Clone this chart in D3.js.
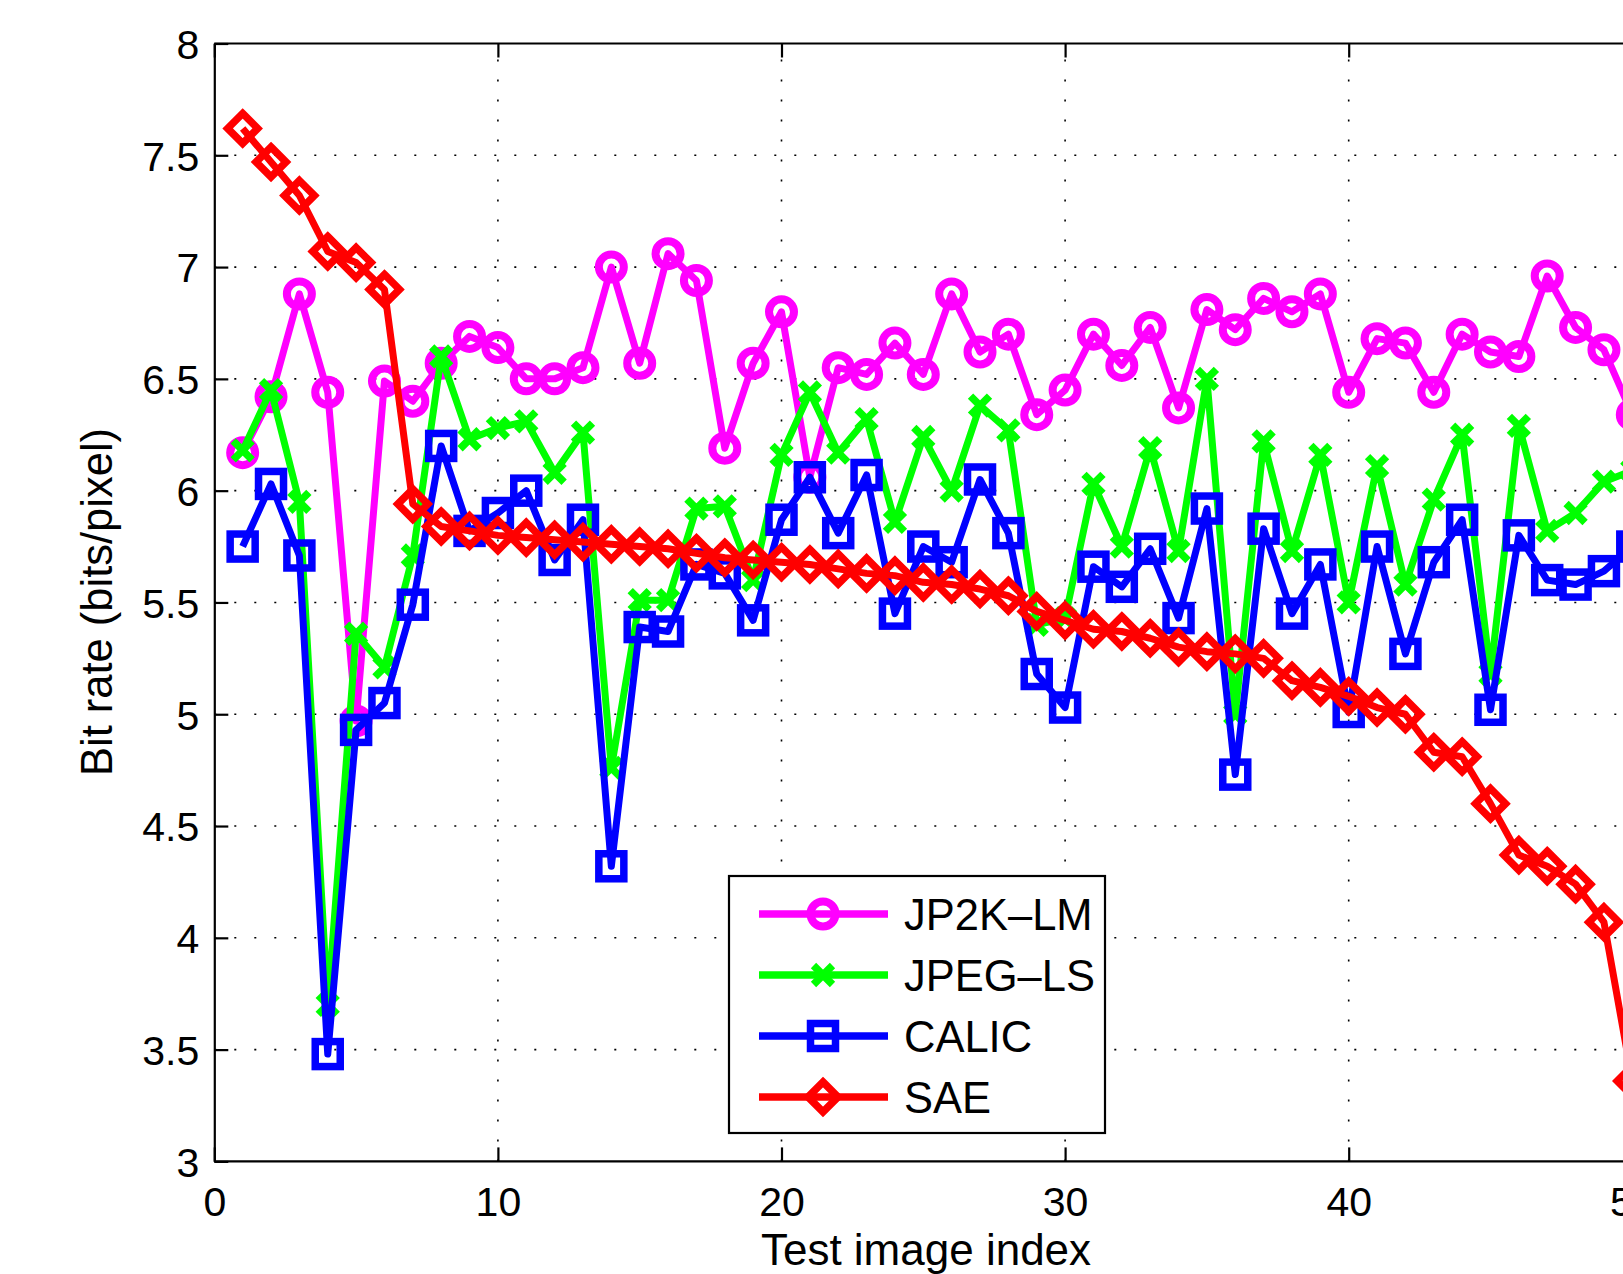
<!DOCTYPE html>
<html>
<head>
<meta charset="utf-8">
<script src="https://cdn.jsdelivr.net/npm/d3@7"></script>
<style>
  body { margin: 0; background: #fff; overflow: hidden; }
  svg { display: block; font-family: "Liberation Sans", Arial, sans-serif; }
</style>
</head>
<body>
<div id="chart"></div>
<script>
// test image index 1..50
const imageIndex = d3.range(1, 51);

const jp2kLM = [6.17, 6.42, 6.88, 6.44, 4.97, 6.49, 6.40, 6.57, 6.69, 6.64,
                6.50, 6.50, 6.55, 7.00, 6.57, 7.06, 6.94, 6.19, 6.57, 6.80,
                6.06, 6.55, 6.52, 6.66, 6.52, 6.88, 6.62, 6.70, 6.34, 6.45,
                6.70, 6.56, 6.73, 6.37, 6.81, 6.72, 6.86, 6.80, 6.88, 6.44,
                6.68, 6.66, 6.44, 6.70, 6.62, 6.60, 6.96, 6.73, 6.63, 6.34];

const jpegLS = [6.18, 6.45, 5.95, 3.70, 5.36, 5.21, 5.71, 6.60, 6.23, 6.28,
                6.31, 6.08, 6.26, 4.76, 5.51, 5.51, 5.92, 5.93, 5.60, 6.16,
                6.44, 6.17, 6.32, 5.86, 6.24, 6.00, 6.38, 6.27, 5.40, 5.43,
                6.03, 5.75, 6.19, 5.73, 6.50, 5.00, 6.22, 5.73, 6.16, 5.50,
                6.11, 5.58, 5.96, 6.25, 5.18, 6.29, 5.82, 5.90, 6.04, 6.09];

const calic = [5.75, 6.03, 5.71, 3.48, 4.93, 5.05, 5.49, 6.20, 5.82, 5.90,
               6.00, 5.69, 5.87, 4.32, 5.39, 5.37, 5.67, 5.63, 5.42, 5.87,
               6.06, 5.81, 6.07, 5.45, 5.75, 5.68, 6.05, 5.81, 5.18, 5.03,
               5.66, 5.57, 5.74, 5.43, 5.92, 4.73, 5.83, 5.45, 5.67, 5.01,
               5.75, 5.27, 5.68, 5.87, 5.02, 5.80, 5.60, 5.58, 5.64, 5.75];

const sae = [7.62, 7.47, 7.32, 7.07, 7.02, 6.90, 5.94, 5.84, 5.82, 5.80,
             5.79, 5.78, 5.77, 5.76, 5.75, 5.74, 5.72, 5.70, 5.69, 5.68,
             5.67, 5.65, 5.63, 5.62, 5.59, 5.58, 5.56, 5.53, 5.46, 5.42,
             5.38, 5.37, 5.34, 5.30, 5.28, 5.27, 5.25, 5.15, 5.12, 5.08,
             5.03, 5.00, 4.83, 4.81, 4.60, 4.37, 4.32, 4.24, 4.07, 3.36];

const seriesNames = ["JP2K\u2013LM", "JPEG\u2013LS", "CALIC", "SAE"];
const seriesColors = ["#ff00ff", "#00ff00", "#0000ff", "#ff0000"];
const seriesMarkers = ["circle", "x", "square", "diamond"];
const seriesValues = [jp2kLM, jpegLS, calic, sae];

const xTicks = [0, 10, 20, 30, 40, 50, 60];
const yTicks = [3, 3.5, 4, 4.5, 5, 5.5, 6, 6.5, 7, 7.5, 8];

const W = 1623, H = 1274;
const x0 = 214.3, pxPerUnit = 28.36;

const svg = d3.select("#chart").append("svg")
  .attr("width", W)
  .attr("height", H);

const x = d3.scaleLinear().domain([0, 60]).range([x0, x0 + 60 * pxPerUnit]);
const y = d3.scaleLinear().domain([3, 8]).range([1161.4, 43.5]);

// dotted grid
const grid = svg.append("g")
  .attr("stroke", "#000")
  .attr("stroke-width", 1.6)
  .attr("stroke-dasharray", "2 18");

grid.selectAll(".gy")
  .data(yTicks.filter(d => d > 3 && d < 8))
  .enter().append("line")
  .attr("x1", x(0)).attr("x2", W)
  .attr("y1", d => y(d)).attr("y2", d => y(d));

grid.selectAll(".gx")
  .data(xTicks.filter(d => d > 0))
  .enter().append("line")
  .attr("x1", d => x(d)).attr("x2", d => x(d))
  .attr("y1", y(3)).attr("y2", y(8));

// axes
const yAxis = d3.axisLeft(y).tickValues(yTicks).tickSizeInner(-14).tickSizeOuter(0).tickPadding(15)
  .tickFormat(d3.format("~g"));
const xAxis = d3.axisBottom(x).tickValues(xTicks).tickSizeInner(-14).tickSizeOuter(0).tickPadding(25);
const xTop = d3.axisTop(x).tickValues(xTicks).tickSizeInner(-14).tickSizeOuter(0).tickFormat("");

const gy = svg.append("g").attr("transform", `translate(${x(0)},0)`).call(yAxis);
const gx = svg.append("g").attr("transform", `translate(0,${y(3)})`).call(xAxis);
const gt = svg.append("g").attr("transform", `translate(0,${y(8)})`).call(xTop);

[gy, gx, gt].forEach(g => {
  g.select(".domain").attr("stroke", "#000").attr("stroke-width", 2.2);
  g.selectAll(".tick line").attr("stroke", "#000").attr("stroke-width", 2.2);
  g.selectAll(".tick text")
    .attr("fill", "#000")
    .style("font-size", "41px")
    .style("font-family", "Liberation Sans, Arial, sans-serif");
});
gx.select(".domain").attr("d", `M${x(0)},0H${W}`);
gt.select(".domain").attr("d", `M${x(0)},0H${W}`);
gy.selectAll(".tick text").attr("dy", "0.36em");

// axis labels
svg.append("text")
  .attr("x", 926)
  .attr("y", 1265)
  .attr("text-anchor", "middle")
  .style("font-size", "44px")
  .text("Test image index");

svg.append("text")
  .attr("transform", "translate(112,602) rotate(-90)")
  .attr("text-anchor", "middle")
  .style("font-size", "43.5px")
  .text("Bit rate (bits/pixel)");

// marker drawer
function drawMarker(sel, type, color) {
  if (type === "circle") {
    sel.append("circle").attr("r", 12.5)
      .attr("fill", "none").attr("stroke", color).attr("stroke-width", 8);
  } else if (type === "square") {
    sel.append("rect").attr("x", -12.5).attr("y", -12.5).attr("width", 25).attr("height", 25)
      .attr("fill", "none").attr("stroke", color).attr("stroke-width", 7.5);
  } else if (type === "diamond") {
    sel.append("path").attr("d", "M0,-15L15,0L0,15L-15,0Z")
      .attr("fill", "none").attr("stroke", color).attr("stroke-width", 7.5)
      .attr("stroke-linejoin", "miter");
  } else {
    sel.append("path").attr("d", "M-9.5,-9.5L9.5,9.5M-9.5,9.5L9.5,-9.5")
      .attr("fill", "none").attr("stroke", color).attr("stroke-width", 7.5);
  }
}

const line = d3.line().x(d => x(d[0])).y(d => y(d[1]));

seriesValues.forEach((vals, k) => {
  const pts = imageIndex.map((d, i) => [d, vals[i]]);
  const g = svg.append("g");
  g.append("path")
    .attr("d", line(pts))
    .attr("fill", "none")
    .attr("stroke", seriesColors[k])
    .attr("stroke-width", 7)
    .attr("stroke-linejoin", "round");
  g.selectAll(".m")
    .data(pts)
    .enter().append("g")
    .attr("transform", d => `translate(${x(d[0])},${y(d[1])})`)
    .each(function() { drawMarker(d3.select(this), seriesMarkers[k], seriesColors[k]); });
});

// legend
const legend = svg.append("g");
legend.append("rect")
  .attr("x", 729).attr("y", 876)
  .attr("width", 376).attr("height", 257)
  .attr("fill", "#fff").attr("stroke", "#000").attr("stroke-width", 2.2);

const legendRow = d3.scalePoint().domain(seriesNames).range([914, 1097]);

seriesNames.forEach((name, k) => {
  const ly = legendRow(name);
  legend.append("line")
    .attr("x1", 759).attr("x2", 888)
    .attr("y1", ly).attr("y2", ly)
    .attr("stroke", seriesColors[k]).attr("stroke-width", 7.5);
  const m = legend.append("g").attr("transform", `translate(823,${ly})`);
  drawMarker(m, seriesMarkers[k], seriesColors[k]);
  legend.append("text")
    .attr("x", 904).attr("y", ly)
    .attr("dy", "0.36em")
    .style("font-size", "43.5px")
    .text(name);
});
</script>
</body>
</html>
